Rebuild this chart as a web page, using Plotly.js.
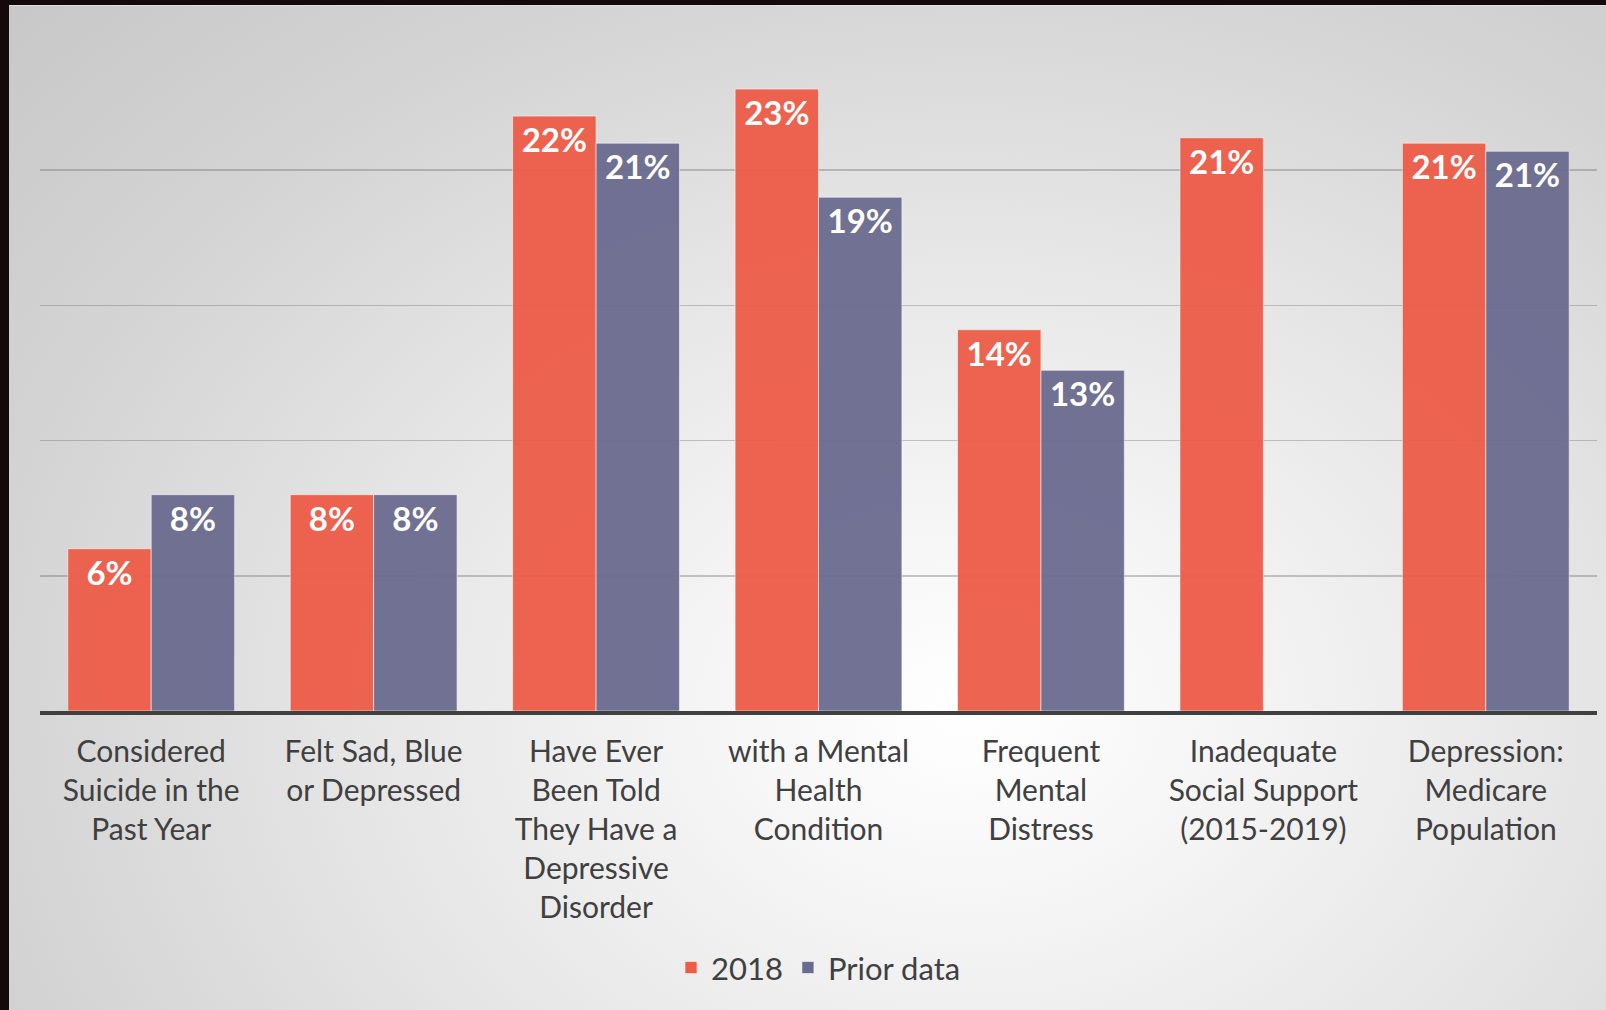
<!DOCTYPE html>
<html>
<head>
<meta charset="utf-8">
<script src="https://cdn.plot.ly/plotly-3.0.1.min.js"></script>
<style>
  html, body { margin: 0; padding: 0; width: 1606px; height: 1010px; overflow: hidden; background: #140a0c; }
  #slide {
    position: absolute; left: 9px; top: 5px; width: 1597px; height: 1005px;
    background: radial-gradient(ellipse 90% 110% at 60% 70%, #ffffff 0%, #f5f5f5 18%, #e6e6e6 42%, #d4d4d4 68%, #c6c6c6 95%);
    border-top: 1px solid #dedede;
  }
  #chart { position: absolute; left: 0; top: 0; width: 1606px; height: 1010px; }
</style>
</head>
<body>
<div id="slide"></div>
<div id="chart"></div>
<script>
const categories = [
  "Considered<br>Suicide in the<br>Past Year",
  "Felt Sad, Blue<br>or Depressed",
  "Have Ever<br>Been Told<br>They Have a<br>Depressive<br>Disorder",
  "with a Mental<br>Health<br>Condition",
  "Frequent<br>Mental<br>Distress",
  "Inadequate<br>Social Support<br>(2015-2019)",
  "Depression:<br>Medicare<br>Population"
];
const values2018 = [6.0, 8.0, 22.0, 23.0, 14.1, 21.2, 21.0];
const valuesPrior = [8.0, 8.0, 21.0, 19.0, 12.6, null, 20.7];
const seriesNames = ["2018", "Prior data"];
const seriesColors = ["#ED5C47", "#6B6B90"];

const labelFont = { family: "Lato, 'Open Sans', sans-serif", size: 33, color: "#ffffff", weight: 700 };

function barTrace(name, vals, color) {
  return {
    type: "bar",
    name: name,
    x: categories,
    y: vals,
    marker: { color: color, opacity: 0.95, line: { color: "rgba(255,255,255,0.55)", width: 1 } },
    texttemplate: "%{y:.0f}%",
    textposition: "inside",
    insidetextanchor: "end",
    textangle: 0,
    constraintext: "none",
    textfont: labelFont,
    hoverinfo: "skip"
  };
}

const data = [
  barTrace(seriesNames[0], values2018, seriesColors[0]),
  barTrace(seriesNames[1], valuesPrior, seriesColors[1])
];

const layout = {
  width: 1606,
  height: 1010,
  margin: { l: 40, r: 9, t: 35, b: 299 },
  paper_bgcolor: "rgba(0,0,0,0)",
  plot_bgcolor: "rgba(0,0,0,0)",
  barmode: "group",
  bargap: 0.25,
  bargroupgap: 0,
  font: { family: "Lato, 'Open Sans', sans-serif", color: "#404040" },
  xaxis: {
    type: "category",
    showline: true,
    linecolor: "#404040",
    linewidth: 3.5,
    ticks: "",
    showgrid: false,
    tickfont: { size: 30, color: "#404040" },
    ticklabelstandoff: 11,
    automargin: false,
    fixedrange: true
  },
  yaxis: {
    range: [0, 25],
    dtick: 5,
    showticklabels: false,
    showgrid: true,
    gridcolor: "rgba(100,100,100,0.35)",
    gridwidth: 1.5,
    zeroline: false,
    showline: false,
    automargin: false,
    fixedrange: true
  },
  showlegend: true,
  legend: {
    orientation: "h",
    x: 0.5, xanchor: "center",
    y: -0.38, yanchor: "middle",
    font: { size: 31, color: "#404040" },
    bgcolor: "rgba(0,0,0,0)",
    itemclick: false, itemdoubleclick: false
  }
};

Plotly.newPlot("chart", data, layout, { displayModeBar: false, staticPlot: true });
</script>
</body>
</html>
